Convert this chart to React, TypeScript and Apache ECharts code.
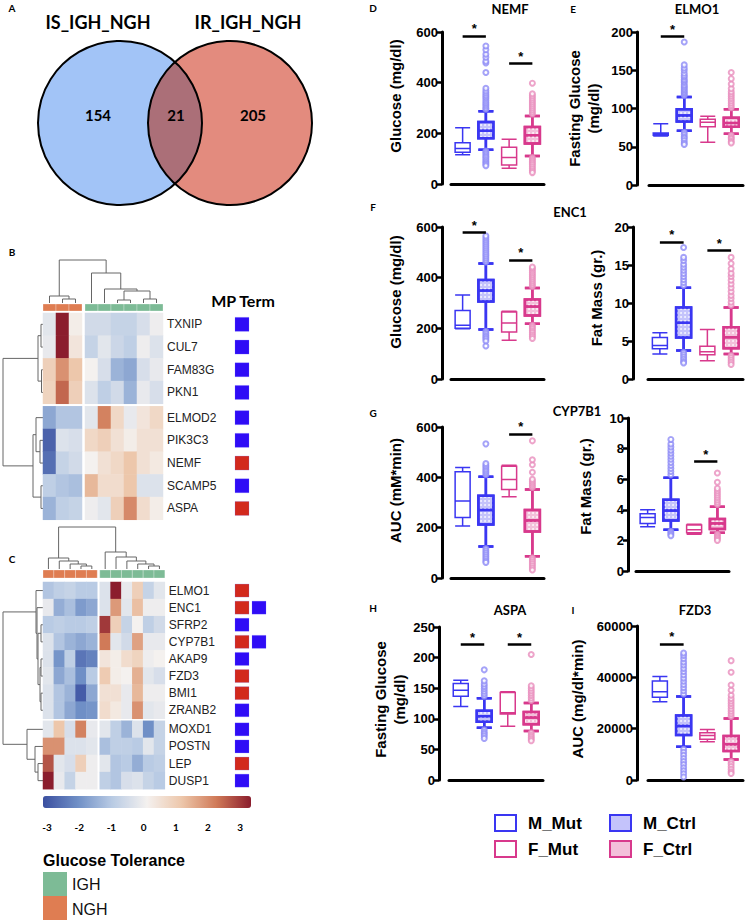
import React, { useEffect, useRef } from "react";
import * as echarts from "echarts";

// ================= DATA =================
const VENN_SETS = ["IS_IGH_NGH", "IR_IGH_NGH"];
const VENN_COUNTS = [154, 21, 205]; // left only, shared, right only

const B_GENES = ["TXNIP", "CUL7", "FAM83G", "PKN1", "ELMOD2", "PIK3C3", "NEMF", "SCAMP5", "ASPA"];
const B_GROUPS = ["NGH", "NGH", "NGH", "IGH", "IGH", "IGH", "IGH", "IGH", "IGH"];
const B_VALUES = [
  [-0.3, 3.0, 0.1, -0.6, -0.6, -0.8, -0.8, -0.5, -0.1],
  [-0.2, 3.0, 0.3, -0.8, -0.3, -0.7, -0.9, -0.1, -0.4],
  [0.8, 1.7, 1.0, 0.0, -0.5, -1.4, -1.6, -0.5, -0.2],
  [0.7, 2.2, 0.8, -0.4, -0.9, -0.6, -1.4, -0.2, -0.5],
  [-1.6, -1.1, -1.1, -0.3, 1.9, 0.6, -0.2, 0.3, 0.6],
  [-2.7, -0.4, -0.5, 0.6, 0.8, 0.4, 0.1, 0.4, 0.4],
  [-2.5, -0.8, -0.6, 0.0, 0.4, 0.6, 1.0, 0.4, 0.2],
  [-0.9, -1.1, -1.2, 1.2, 0.5, 0.5, 1.0, -0.4, -0.4],
  [-1.4, -0.9, -0.8, -0.1, -0.3, 0.8, 1.8, 0.5, 0.1],
];
const B_MP = [["blue"], ["blue"], ["blue"], ["blue"], ["blue"], ["blue"], ["red"], ["blue"], ["red"]];

const C_GENES = ["ELMO1", "ENC1", "SFRP2", "CYP7B1", "AKAP9", "FZD3", "BMI1", "ZRANB2", "MOXD1", "POSTN", "LEP", "DUSP1"];
const C_GROUPS = ["NGH", "NGH", "NGH", "NGH", "NGH", "IGH", "IGH", "IGH", "IGH", "IGH", "IGH"];
const C_VALUES = [
  [-1.1, -0.9, -0.8, -1.0, -1.0, -0.4, 3.0, -0.2, 0.8, -0.8, -0.3],
  [-0.2, -1.5, -1.2, -1.8, -1.6, -0.4, 1.6, -0.3, 1.1, -0.1, -0.1],
  [-1.0, -0.9, -1.0, -1.0, -0.9, 2.7, 0.8, -0.8, 0.0, -0.9, -0.6],
  [-0.4, -1.1, -1.4, -1.6, -1.4, 2.0, -0.3, -0.6, 1.5, -0.2, -0.2],
  [-0.4, -1.9, -0.9, -2.4, -2.2, 0.3, 0.1, 0.5, 0.7, -0.1, 0.0],
  [-0.3, -1.6, -1.2, -2.0, -1.0, 0.9, 0.1, 0.0, 1.3, -0.3, -0.5],
  [-0.4, -1.1, -1.4, -2.8, -1.6, 0.4, 0.4, -0.2, 1.2, -0.1, -0.1],
  [-0.4, -1.1, -1.6, -2.0, -1.9, 0.5, 0.2, -0.2, 1.7, -0.3, -0.2],
  [-0.3, 1.0, -0.5, 1.9, -0.2, -0.3, -0.9, -1.4, -0.4, -2.0, -0.8],
  [1.7, 1.7, -0.4, -0.4, -0.3, -1.2, -0.9, -0.9, -1.0, -0.3, -0.8],
  [2.4, -0.3, -0.5, 0.8, -0.1, -0.3, -1.1, -1.0, -1.5, -1.0, -0.9],
  [3.0, -0.2, -0.8, -0.1, -0.1, -0.9, -1.1, -0.5, -0.4, -0.8, -1.0],
];
const C_MP = [["red"], ["red", "blue"], ["blue"], ["red", "blue"], ["blue"], ["red"], ["red"], ["blue"], ["blue"], ["blue"], ["red"], ["blue"]];

type DNode = number | [DNode, DNode, number];
const B_COL_TREE: DNode = [[0, [1, 2, 4], 7], [3, [4, [[5, 6, 3], [7, 8, 4], 12], 14], 30], 43];
const B_ROW_TREE: DNode = [[[0, 1, 2], [2, 3, 1.5], 5], [[4, [5, 6, 3], 7], [7, 8, 2], 10], 40];
const C_COL_TREE: DNode = [[0, [1, [2, [3, 4, 3], 5], 8], 11], [5, [6, [7, [8, [9, 10, 3], 5], 8], 12], 17], 42];
const C_ROW_TREE: DNode = [[0, [1, [[2, 3, 2], [[4, 5, 2], [6, 7, 2], 3], 5], 6], 7], [8, [9, [10, 11, 5], 8], 16], 40];

const COLORBAR_TICKS = [-3, -2, -1, 0, 1, 2, 3];
const TOLERANCE_GROUPS = ["IGH", "NGH"];

const BOX_GROUPS = ["M_Mut", "M_Ctrl", "F_Mut", "F_Ctrl"];

// box = [min, Q1, median, Q3, max] for M_Mut, M_Ctrl, F_Mut, F_Ctrl
const D_BOX = [[115, 125, 140, 163, 222], [135, 181, 210, 245, 287], [62, 75, 105, 145, 177], [111, 160, 192, 225, 268]];
const D_OUT_M = [295, 300, 308, 315, 322, 330, 338, 345, 352, 360, 368, 378, 440, 478, 485, 500, 512, 530, 545, 130, 124, 117, 110, 104, 97, 90, 84, 78, 72];
const D_OUT_F = [276, 284, 292, 300, 308, 316, 324, 332, 340, 348, 356, 398, 104, 97, 90, 83, 76, 68, 60, 52, 45];
const D_SIG = [[0, 1, 585], [2, 3, 475]];

const E_BOX = [[64, 65, 66, 68, 80], [71, 83, 91, 99, 115], [56, 76, 82, 86, 90], [67, 76, 81, 88, 99]];
const E_OUT_M = [117, 119, 121, 123, 125, 127, 129, 131, 134, 136, 138, 141, 143, 146, 150, 153, 157, 187, 69, 66, 63, 61, 58, 55, 53];
const E_OUT_F = [101, 104, 107, 110, 113, 116, 119, 122, 126, 132, 139, 147, 65, 62, 60, 57, 55];
const E_SIG = [[0, 1, 194]];

const F1_BOX = [[198, 200, 212, 270, 332], [195, 306, 349, 391, 456], [153, 186, 221, 264, 267], [218, 251, 286, 314, 359]];
const F1_OUT_M = [462, 470, 478, 486, 494, 502, 510, 518, 526, 534, 542, 550, 558, 565, 188, 180, 172, 165, 158, 150, 130];
const F1_OUT_F = [365, 372, 380, 388, 396, 404, 412, 420, 428, 436, 442, 212, 205, 198, 190, 183, 175, 168, 160];
const F1_SIG = [[0, 1, 578], [2, 3, 469]];

const F2_BOX = [[3.3, 3.97, 4.4, 5.45, 6.1], [3.75, 5.45, 7.4, 9.4, 12.0], [2.4, 3.2, 3.6, 4.3, 6.5], [3.3, 4.05, 5.5, 6.8, 9.4]];
const F2_OUT_M = [12.3, 12.7, 13.1, 13.5, 13.9, 14.3, 14.7, 15.1, 15.6, 16.0, 17.3, 3.5, 3.2, 2.9, 2.6, 2.3, 2.1];
const F2_OUT_F = [9.7, 10.1, 10.6, 11.0, 11.5, 12.0, 12.5, 13.0, 13.5, 13.9, 14.5, 15.2, 16.0, 3.1, 2.8, 2.5, 2.2, 1.9];
const F2_SIG = [[0, 1, 18.0], [2, 3, 16.9]];

const G1_BOX = [[207, 240, 306, 422, 439], [125, 213, 270, 327, 402], [323, 352, 391, 444, 448], [86, 185, 228, 270, 352]];
const G1_OUT_M = [410, 418, 425, 432, 440, 447, 455, 533, 117, 108, 100, 92, 84, 76, 68, 62];
const G1_OUT_F = [360, 368, 376, 384, 392, 420, 450, 470, 545, 80, 72, 64, 56, 48, 40, 32];
const G1_SIG = [[2, 3, 571]];

const G2_BOX = [[2.9, 3.1, 3.5, 3.74, 4.0], [2.7, 3.3, 3.95, 4.65, 6.1], [2.4, 2.5, 2.7, 3.0, 3.05], [2.5, 2.75, 3.1, 3.4, 4.2]];
const G2_OUT_M = [6.3, 6.5, 6.7, 6.9, 7.1, 7.3, 7.5, 7.7, 7.9, 8.1, 8.3, 8.6, 2.6, 2.5, 2.4, 2.3];
const G2_OUT_F = [4.35, 4.5, 4.65, 4.8, 4.95, 5.1, 5.25, 5.4, 5.8, 6.4, 2.4, 2.3, 2.2, 2.1, 2.0];
const G2_SIG = [[2, 3, 7.15]];

const H_BOX = [[120, 137, 146.5, 157.5, 163], [85.5, 95, 104, 113, 133.5], [88, 108, 110, 143, 144], [80, 91, 102, 111, 126]];
const H_OUT_M = [137, 141, 145, 149, 153, 157, 162, 180, 82, 78, 75, 72, 68];
const H_OUT_F = [130, 134, 138, 142, 146, 150, 154, 205, 77, 73, 70, 67, 64];
const H_SIG = [[0, 1, 221], [2, 3, 221]];

const I_BOX = [[30500, 32200, 34400, 38600, 40300], [13000, 17500, 21000, 25100, 32500], [14900, 15850, 17300, 18450, 19700], [8000, 11300, 13900, 17100, 24000]];
const I_OUT_M = [33500, 34800, 36000, 37200, 38500, 39700, 41000, 42300, 43500, 44800, 46000, 47300, 48500, 49500, 12000, 10800, 9600, 8400, 7200, 6000, 4800, 3600, 2400, 1200];
const I_OUT_F = [24800, 25800, 26800, 27800, 28800, 29800, 30800, 31800, 33000, 35000, 37000, 42000, 46500, 7200, 6200, 5200, 4200, 3200, 2500];
const I_SIG = [[0, 1, 53000]];

// ================= STYLE / LAYOUT =================
const SANS = "'Liberation Sans', Arial, sans-serif";
const CAL = "Lato, 'Liberation Sans', sans-serif";
const HEAT_COLORS = ["#3b4fa0", "#6f8fc6", "#b9cbe4", "#f4f1ef", "#edc7ab", "#d07a58", "#8b1d2d"];
const GROUP_COLORS: Record<string, string> = { IGH: "#7dbb96", NGH: "#df7d52" };
const MP_COLORS: Record<string, string> = { blue: "#2f0cf6", red: "#d2291d" };
const M_COL = "#3a36f2";
const F_COL = "#d8398c";
const M_LIGHT = "#8f8cf6";
const F_LIGHT = "#e88dbd";

const V_C1 = { x: 120, y: 123 };
const V_C2 = { x: 230, y: 123 };
const V_R = 82;

function lensPath() {
  const dx = (V_C2.x - V_C1.x) / 2;
  const mx = V_C1.x + dx;
  const h = Math.sqrt(V_R * V_R - dx * dx);
  return `M${mx} ${V_C1.y - h} A${V_R} ${V_R} 0 0 1 ${mx} ${V_C1.y + h} A${V_R} ${V_R} 0 0 1 ${mx} ${V_C1.y - h} Z`;
}
echarts.graphic.registerShape("vennLens", echarts.graphic.extendPath(lensPath(), {}));

function dendroLines(tree: DNode, leafPos: (i: number) => number, base: number, vertical: boolean) {
  const out: number[][][] = [];
  const walk = (n: DNode): { p: number; h: number } => {
    if (typeof n === "number") return { p: leafPos(n), h: 0 };
    const a = walk(n[0]);
    const b = walk(n[1]);
    const h = n[2];
    const pt = (p: number, hh: number) => (vertical ? [p, base - hh] : [base - hh, p]);
    out.push([pt(a.p, a.h), pt(a.p, h), pt(b.p, h), pt(b.p, b.h)]);
    return { p: (a.p + b.p) / 2, h };
  };
  walk(tree);
  return out;
}

type HeatLayout = { x0: number; cw: number; cgap: number; y0: number; ch: number; rgap: number; rowSplit: number };

function buildOption() {
  const grid: any[] = [];
  const xAxis: any[] = [];
  const yAxis: any[] = [];
  const series: any[] = [];
  const graphic: any[] = [];
  const heatIdx: number[] = [];

  const txt = (text: string, x: number, y: number, font: string, align = "center", vAlign = "middle", fill = "#000") => ({
    type: "text",
    x,
    y,
    silent: true,
    style: { text, font, fill, align, verticalAlign: vAlign, textAlign: align, textVerticalAlign: vAlign },
  });

  // ---------- Venn ----------
  graphic.push({ type: "circle", shape: { cx: V_C1.x, cy: V_C1.y, r: V_R }, style: { fill: "#a2c4f7" } });
  graphic.push({ type: "circle", shape: { cx: V_C2.x, cy: V_C2.y, r: V_R }, style: { fill: "#e38b7e" } });
  graphic.push({ type: "vennLens", x: 0, y: 0, style: { fill: "#ab6f78" } });
  graphic.push({ type: "circle", shape: { cx: V_C1.x, cy: V_C1.y, r: V_R }, style: { fill: "none", stroke: "#000", lineWidth: 2 } });
  graphic.push({ type: "circle", shape: { cx: V_C2.x, cy: V_C2.y, r: V_R }, style: { fill: "none", stroke: "#000", lineWidth: 2 } });
  graphic.push(txt(VENN_SETS[0], 98, 22, `bold 18px ${CAL}`));
  graphic.push(txt(VENN_SETS[1], 248, 22, `bold 18px ${CAL}`));
  graphic.push(txt(String(VENN_COUNTS[0]), 98, 115, `bold 15px ${CAL}`));
  graphic.push(txt(String(VENN_COUNTS[1]), 176, 115, `bold 15px ${CAL}`));
  graphic.push(txt(String(VENN_COUNTS[2]), 253, 115, `bold 15px ${CAL}`));

  // ---------- Heatmaps ----------
  const makeHeat = (genes: string[], groups: string[], values: number[][], mp: string[][], L: HeatLayout,
    colTree: DNode, rowTree: DNode, annTop: number, annH: number, mpW: number, mpH: number) => {
    const nLeft = groups.filter((g) => g === "NGH").length;
    const nCols = groups.length;
    const nRows = genes.length;
    const colX = (i: number) => L.x0 + i * L.cw + (i >= nLeft ? L.cgap : 0);
    const rowY = (r: number) => L.y0 + r * L.ch + (r >= L.rowSplit ? L.rgap : 0);
    const rBlocks = [[0, L.rowSplit], [L.rowSplit, nRows]];
    const cBlocks = [[0, nLeft], [nLeft, nCols]];
    rBlocks.forEach((rb) => {
      cBlocks.forEach((cb, ci) => {
        const gi = grid.length;
        grid.push({ left: colX(cb[0]), top: rowY(rb[0]), width: (cb[1] - cb[0]) * L.cw, height: (rb[1] - rb[0]) * L.ch, containLabel: false });
        const cols: string[] = [];
        for (let c = cb[0]; c < cb[1]; c++) cols.push("s" + c);
        xAxis.push({ type: "category", gridIndex: gi, data: cols, show: false });
        yAxis.push({
          type: "category", gridIndex: gi, data: genes.slice(rb[0], rb[1]), inverse: true, show: ci === 1, position: "right",
          axisLine: { show: false }, axisTick: { show: false },
          axisLabel: { show: ci === 1, margin: 4, fontSize: 12, color: "#222", fontFamily: SANS },
        });
        const data: any[] = [];
        for (let r = rb[0]; r < rb[1]; r++) for (let c = cb[0]; c < cb[1]; c++) data.push([c - cb[0], r - rb[0], values[r][c]]);
        heatIdx.push(series.length);
        series.push({ type: "heatmap", xAxisIndex: gi, yAxisIndex: gi, data, itemStyle: { borderWidth: 0 }, emphasis: { disabled: true }, silent: true });
      });
    });
    // annotation bar
    groups.forEach((g, c) => {
      graphic.push({ type: "rect", shape: { x: colX(c), y: annTop, width: L.cw, height: annH }, style: { fill: GROUP_COLORS[g], stroke: "rgba(255,255,255,0.45)", lineWidth: 0.6 } });
    });
    // dendrograms
    const colCenter = (i: number) => colX(i) + L.cw / 2;
    const rowCenter = (r: number) => rowY(r) + L.ch / 2;
    dendroLines(colTree, colCenter, annTop - 1, true).forEach((pts) =>
      graphic.push({ type: "polyline", shape: { points: pts }, style: { stroke: "#666", lineWidth: 1, fill: "none" } }));
    dendroLines(rowTree, rowCenter, L.x0, false).forEach((pts) =>
      graphic.push({ type: "polyline", shape: { points: pts }, style: { stroke: "#666", lineWidth: 1, fill: "none" } }));
    // MP term squares
    mp.forEach((terms, r) => {
      terms.forEach((t, k) => {
        graphic.push({ type: "rect", shape: { x: 235 + k * 17, y: rowCenter(r) - mpH / 2, width: mpW, height: mpH }, style: { fill: MP_COLORS[t], stroke: "rgba(120,120,255,0.35)", lineWidth: 0.6 } });
      });
    });
  };

  makeHeat(B_GENES, B_GROUPS, B_VALUES, B_MP, { x0: 43, cw: 13, cgap: 3, y0: 313, ch: 22.7, rgap: 2.5, rowSplit: 4 },
    B_COL_TREE, B_ROW_TREE, 304, 7, 14, 14);
  makeHeat(C_GENES, C_GROUPS, C_VALUES, C_MP, { x0: 43, cw: 10.85, cgap: 2.5, y0: 582, ch: 17.1, rgap: 2, rowSplit: 8 },
    C_COL_TREE, C_ROW_TREE, 570, 8, 14, 13);

  graphic.push(txt("MP Term", 243, 300, `bold 16px ${CAL}`));
  graphic.push(txt("A", 12, 8, `bold 10px ${CAL}`));
  graphic.push(txt("B", 12, 252, `bold 10px ${CAL}`));
  graphic.push(txt("C", 12, 559, `bold 10px ${CAL}`));

  // colorbar ticks
  COLORBAR_TICKS.forEach((t, i) => graphic.push(txt(String(t), 47 + i * 32.2, 827, `bold 10px ${CAL}`)));

  // glucose tolerance legend
  graphic.push(txt("Glucose Tolerance", 43, 860, `bold 16px ${SANS}`, "left"));
  TOLERANCE_GROUPS.forEach((g, i) => {
    graphic.push({ type: "rect", shape: { x: 43, y: 872 + i * 24, width: 24, height: 24 }, style: { fill: GROUP_COLORS[g] } });
    graphic.push(txt(g, 72, 884 + i * 25, `16px ${SANS}`, "left", "middle", "#111"));
  });

  // ---------- Box plots ----------
  const PANELS = [
    { box: D_BOX, outM: D_OUT_M, outF: D_OUT_F, sig: D_SIG, max: 600, interval: 200, name: "Glucose (mg/dl)", left: 451, top: 32, width: 93, height: 152, yOff: 9, gap: 37, shift: 24 },
    { box: E_BOX, outM: E_OUT_M, outF: E_OUT_F, sig: E_SIG, max: 200, interval: 50, name: "Fasting Glucose\n(mg/dl)", left: 649, top: 32, width: 94, height: 153, yOff: 12, gap: 34, shift: 0 },
    { box: F1_BOX, outM: F1_OUT_M, outF: F1_OUT_F, sig: F1_SIG, max: 600, interval: 200, name: "Glucose (mg/dl)", left: 451, top: 227, width: 93, height: 152, yOff: 9, gap: 37, shift: 22 },
    { box: F2_BOX, outM: F2_OUT_M, outF: F2_OUT_F, sig: F2_SIG, max: 20, interval: 5, name: "Fat Mass (gr.)", left: 648, top: 227, width: 95, height: 152, yOff: 15, gap: 27, shift: 10 },
    { box: G1_BOX, outM: G1_OUT_M, outF: G1_OUT_F, sig: G1_SIG, max: 600, interval: 200, name: "AUC (mM*min)", left: 451, top: 427, width: 93, height: 151, yOff: 9, gap: 37, shift: 24 },
    { box: G2_BOX, outM: G2_OUT_M, outF: G2_OUT_F, sig: G2_SIG, max: 10, interval: 2, name: "Fat Mass (gr.)", left: 636, top: 418, width: 93, height: 153, yOff: 8, gap: 33, shift: 16 },
    { box: H_BOX, outM: H_OUT_M, outF: H_OUT_F, sig: H_SIG, max: 250, interval: 50, name: "Fasting Glucose\n(mg/dl)", left: 449, top: 627, width: 94, height: 153, yOff: 10, gap: 30, shift: 8 },
    { box: I_BOX, outM: I_OUT_M, outF: I_OUT_F, sig: I_SIG, max: 60000, interval: 20000, name: "AUC (mg/dl*min)", left: 648, top: 626, width: 95, height: 154, yOff: 11, gap: 50, shift: 8 },
  ];

  const boxStyle = (i: number) => {
    const isM = i < 2;
    const col = isM ? M_COL : F_COL;
    if (i % 2 === 0) return { color: "#fff", borderColor: col, borderWidth: 1.5 };
    return {
      color: isM ? "#c4c3fb" : "#f3c0da", borderColor: col, borderWidth: 2.5,
      decal: { symbol: "circle", symbolSize: 0.9, color: "rgba(255,255,255,0.85)", dashArrayX: [2, 1.5], dashArrayY: [2, 1.5] },
    };
  };

  PANELS.forEach((p) => {
    const gi = grid.length;
    grid.push({ left: p.left, top: p.top, width: p.width, height: p.height, containLabel: false });
    xAxis.push({
      type: "category", gridIndex: gi, data: BOX_GROUPS, offset: 4,
      axisLine: { show: true, lineStyle: { color: "#000", width: 3 } }, axisTick: { show: false }, axisLabel: { show: false },
    });
    yAxis.push({
      type: "value", gridIndex: gi, min: 0, max: p.max, interval: p.interval, offset: p.yOff,
      name: p.name, nameLocation: "middle", nameGap: p.gap, nameRotate: 90,
      nameTextStyle: { fontWeight: "bold", fontSize: 15, fontFamily: SANS, color: "#000", lineHeight: 19, padding: [0, 0, 0, p.shift] },
      axisLine: { show: true, lineStyle: { color: "#000", width: 3 } },
      axisTick: { show: true, length: 5, lineStyle: { color: "#000", width: 2.5 } },
      axisLabel: { fontWeight: "bold", fontSize: 13, fontFamily: SANS, color: "#000", margin: 4, formatter: (v: number) => String(v) },
      splitLine: { show: false },
    });
    series.push({
      type: "boxplot", xAxisIndex: gi, yAxisIndex: gi, boxWidth: [15, 15], silent: true,
      data: p.box.map((v, i) => ({ value: v, itemStyle: boxStyle(i) })),
      markLine: {
        silent: true, symbol: ["none", "none"], animation: false,
        lineStyle: { color: "#000", width: 2.5, type: "solid" },
        label: { show: true, formatter: "*", position: "middle", color: "#000", fontSize: 13, fontWeight: "bold", distance: 1 },
        data: p.sig.map((s) => [{ coord: [s[0], s[2]] }, { coord: [s[1], s[2]] }]),
      },
    });
    series.push({
      type: "scatter", xAxisIndex: gi, yAxisIndex: gi, symbol: "emptyCircle", symbolSize: 5, silent: true,
      itemStyle: { color: M_LIGHT, borderColor: M_LIGHT, borderWidth: 1 },
      data: p.outM.map((v) => [1, v]),
    });
    series.push({
      type: "scatter", xAxisIndex: gi, yAxisIndex: gi, symbol: "emptyCircle", symbolSize: 5, silent: true,
      itemStyle: { color: F_LIGHT, borderColor: F_LIGHT, borderWidth: 1 },
      data: p.outF.map((v) => [3, v]),
    });
  });

  // titles & letters
  graphic.push(txt("NEMF", 510, 9, `bold 13px ${CAL}`));
  graphic.push(txt("ELMO1", 697, 9, `bold 13px ${CAL}`));
  graphic.push(txt("ENC1", 570, 212, `bold 13px ${CAL}`));
  graphic.push(txt("CYP7B1", 577, 411, `bold 13px ${CAL}`));
  graphic.push(txt("ASPA", 510, 610, `bold 13px ${CAL}`));
  graphic.push(txt("FZD3", 695, 610, `bold 13px ${CAL}`));
  graphic.push(txt("D", 373, 8, `bold 10px ${CAL}`));
  graphic.push(txt("E", 573, 9, `bold 10px ${CAL}`));
  graphic.push(txt("F", 373, 207, `bold 10px ${CAL}`));
  graphic.push(txt("G", 373, 413, `bold 10px ${CAL}`));
  graphic.push(txt("H", 373, 608, `bold 10px ${CAL}`));
  graphic.push(txt("I", 573, 610, `bold 10px ${CAL}`));

  // box legend
  BOX_GROUPS.forEach((g, i) => {
    const col = i % 2 === 0 ? 0 : 1;
    const row = i < 2 ? 0 : 1;
    const x = col === 0 ? 495 : 610;
    const y = row === 0 ? 815 : 841;
    const st = boxStyle(i);
    graphic.push({ type: "rect", shape: { x, y, width: 21, height: 16 }, style: { fill: st.color, stroke: st.borderColor, lineWidth: 2 } });
    graphic.push(txt(g, x + 33, y + 8, `bold 17px ${SANS}`, "left"));
  });

  return {
    animation: false,
    backgroundColor: "#fff",
    grid,
    xAxis,
    yAxis,
    series,
    visualMap: {
      type: "continuous", min: -3, max: 3, seriesIndex: heatIdx, orient: "horizontal", left: 38, top: 791,
      itemWidth: 12, itemHeight: 208, calculable: false, hoverLink: false, show: true, padding: 5,
      inRange: { color: HEAT_COLORS },
    },
    graphic: { elements: graphic },
  };
}

export default function App() {
  const ref = useRef<HTMLDivElement>(null);
  useEffect(() => {
    if (!ref.current) return;
    const chart = echarts.init(ref.current, undefined, { renderer: "svg" });
    chart.setOption(buildOption() as any);
    return () => chart.dispose();
  }, []);
  return <div ref={ref} style={{ position: "absolute", left: 0, top: 0, width: 745, height: 922 }} />;
}
